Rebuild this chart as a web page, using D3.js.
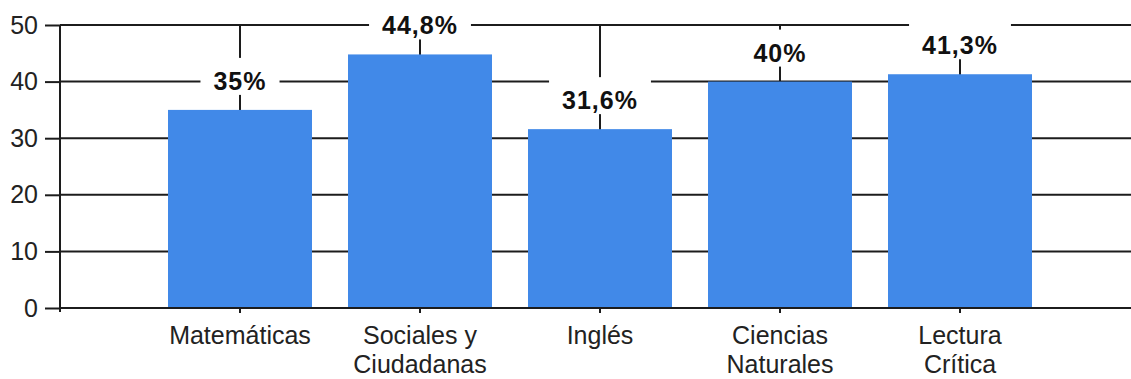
<!DOCTYPE html>
<html>
<head>
<meta charset="utf-8">
<script src="https://cdn.jsdelivr.net/npm/d3@7"></script>
<style>
  body { margin: 0; background: #fff; }
  text { font-family: "Liberation Sans", Arial, sans-serif; }
</style>
</head>
<body>
<div id="chart"></div>
<script>
// chart data
var categories = ["Matemáticas", "Sociales y\nCiudadanas", "Inglés", "Ciencias\nNaturales", "Lectura\nCrítica"];
var values = [35, 44.8, 31.6, 40, 41.3];
var valueLabels = ["35%", "44,8%", "31,6%", "40%", "41,3%"];
var yTicks = [0, 10, 20, 30, 40, 50];

var width = 1131, height = 379;
var x0 = 60, y0 = 308, yTop = 25;

var svg = d3.select("#chart")
  .append("svg")
    .attr("width", width)
    .attr("height", height);

var y = d3.scaleLinear()
  .domain([0, 50])
  .range([y0, yTop]);

var x = d3.scaleBand()
  .domain(categories)
  .range([150, 1050])
  .paddingInner(0.2)
  .paddingOuter(0.1);

var ink = "#1c1c1c";

// horizontal grid lines
svg.selectAll("hgrid")
  .data(yTicks.filter(function(d) { return d > 0; }))
  .enter()
  .append("line")
    .attr("x1", x0).attr("x2", width)
    .attr("y1", function(d) { return y(d); })
    .attr("y2", function(d) { return y(d); })
    .style("stroke", ink)
    .style("stroke-width", 2);

// vertical grid lines at category centers
svg.selectAll("vgrid")
  .data(categories)
  .enter()
  .append("line")
    .attr("x1", function(d) { return x(d) + x.bandwidth() / 2; })
    .attr("x2", function(d) { return x(d) + x.bandwidth() / 2; })
    .attr("y1", y(50))
    .attr("y2", y0)
    .style("stroke", ink)
    .style("stroke-width", 2);

// bars
svg.selectAll("bar")
  .data(values)
  .enter()
  .append("rect")
    .attr("x", function(d, i) { return x(categories[i]); })
    .attr("y", function(d) { return y(d); })
    .attr("width", x.bandwidth())
    .attr("height", function(d) { return y0 - y(d); })
    .style("fill", "#4189e8");

// value labels with white boxes
var labels = svg.selectAll("vlabel")
  .data(values)
  .enter()
  .append("g");

labels.append("rect").attr("class", "lbox").style("fill", "#fff");

labels.append("text")
  .attr("x", function(d, i) { return x(categories[i]) + x.bandwidth() / 2; })
  .attr("y", function(d) { return y(d) - 20; })
  .attr("text-anchor", "middle")
  .style("font-size", "25px")
  .style("font-weight", "bold")
  .style("letter-spacing", "1px")
  .style("fill", "#111")
  .text(function(d, i) { return valueLabels[i]; });

labels.each(function() {
  var g = d3.select(this);
  var b = g.select("text").node().getBBox();
  g.select("rect")
    .attr("x", b.x - 13)
    .attr("y", b.y - 9)
    .attr("width", b.width + 26)
    .attr("height", b.height + 9);
});

// y axis
var yAxis = svg.append("g")
  .attr("transform", "translate(" + x0 + ",0)")
  .call(d3.axisLeft(y).tickValues(yTicks).tickSize(15).tickSizeOuter(0).tickPadding(7));

yAxis.select(".domain").remove();
yAxis.selectAll("line").style("stroke", ink).style("stroke-width", 2);
yAxis.selectAll("text")
  .style("font-size", "25px")
  .style("fill", "#222")
  .style("font-family", "'Liberation Sans', Arial, sans-serif");

svg.append("line")
  .attr("x1", x0).attr("x2", x0)
  .attr("y1", yTop).attr("y2", y0 + 4)
  .style("stroke", ink)
  .style("stroke-width", 2);

// x axis baseline and ticks
svg.append("line")
  .attr("x1", x0).attr("x2", width)
  .attr("y1", y0).attr("y2", y0)
  .style("stroke", ink)
  .style("stroke-width", 2);

svg.selectAll("xtick")
  .data(categories)
  .enter()
  .append("line")
    .attr("x1", function(d) { return x(d) + x.bandwidth() / 2; })
    .attr("x2", function(d) { return x(d) + x.bandwidth() / 2; })
    .attr("y1", y0)
    .attr("y2", y0 + 5)
    .style("stroke", ink)
    .style("stroke-width", 2);

// category labels (two lines where needed)
var cat = svg.selectAll("catlabel")
  .data(categories)
  .enter()
  .append("text")
    .attr("text-anchor", "middle")
    .style("font-size", "25px")
    .style("fill", "#222");

cat.each(function(d) {
  var t = d3.select(this);
  var cx = x(d) + x.bandwidth() / 2;
  d.split("\n").forEach(function(line, k) {
    t.append("tspan")
      .attr("x", cx)
      .attr("y", 344 + k * 29)
      .text(line);
  });
});
</script>
</body>
</html>
